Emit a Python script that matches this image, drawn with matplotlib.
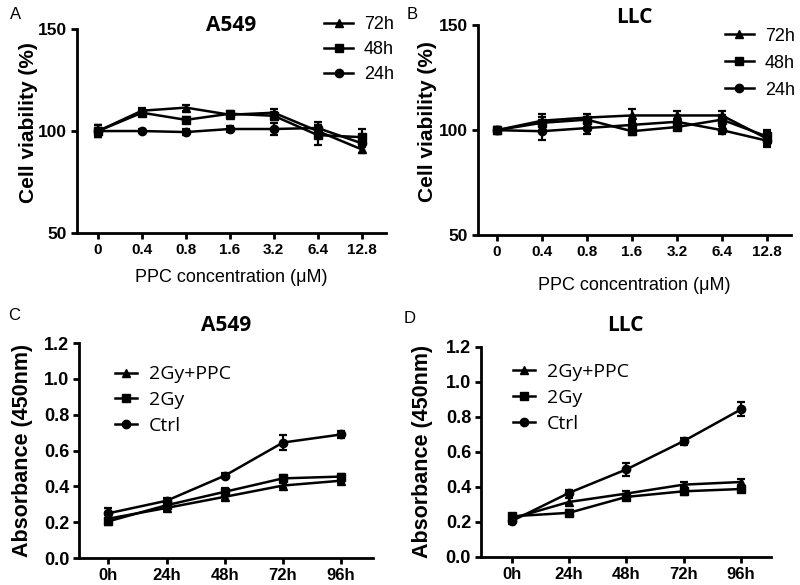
import matplotlib
matplotlib.use("Agg")
import matplotlib.pyplot as plt
from matplotlib.lines import Line2D

# PPC dose response (cell viability %)
conc_labels = ["0", "0.4", "0.8", "1.6", "3.2", "6.4", "12.8"]
a549_72h = [100, 110, 111.5, 108, 109, 100, 91]
a549_48h = [100, 109, 105.5, 108.5, 107.5, 98, 97]
a549_24h = [100, 100, 99.5, 101, 101, 101.5, 94]
a549_72h_err = [3, 1.5, 1.5, 1.5, 2, 3, 2]
a549_48h_err = [3, 1.5, 1.5, 1.5, 2, 5, 4]
a549_24h_err = [3, 1, 1.5, 1.5, 3, 3, 2]

llc_72h = [100, 104.5, 106, 107, 107, 107, 96]
llc_48h = [100, 103.5, 105, 99.5, 101.5, 105, 97]
llc_24h = [100, 99.5, 101, 102.5, 104, 100, 95]
llc_72h_err = [1.5, 2, 1.5, 3, 2, 2, 3]
llc_48h_err = [1.5, 4, 1.5, 2, 1.5, 2, 3]
llc_24h_err = [1.5, 4, 3, 2, 1.5, 2, 3]

# CCK-8 growth curves (absorbance 450nm)
time_labels = ["0h", "24h", "48h", "72h", "96h"]
abs_ticks = ["0.0", "0.2", "0.4", "0.6", "0.8", "1.0", "1.2"]
a549_ctrl = [0.25, 0.32, 0.46, 0.645, 0.69]
a549_2gy = [0.205, 0.295, 0.37, 0.445, 0.455]
a549_ppc = [0.22, 0.28, 0.342, 0.405, 0.432]
a549_ctrl_err = [0.03, 0.015, 0.015, 0.04, 0.02]
a549_2gy_err = [0.02, 0.015, 0.02, 0.02, 0.015]
a549_ppc_err = [0.02, 0.015, 0.015, 0.015, 0.015]

llc_ctrl = [0.205, 0.366, 0.50, 0.662, 0.843]
llc_2gy = [0.232, 0.252, 0.343, 0.375, 0.388]
llc_ppc = [0.22, 0.314, 0.362, 0.413, 0.428]
llc_ctrl_err = [0.015, 0.015, 0.035, 0.02, 0.04]
llc_2gy_err = [0.015, 0.015, 0.015, 0.02, 0.015]
llc_ppc_err = [0.015, 0.02, 0.015, 0.015, 0.015]

BOLD = "Liberation Sans"
fig = plt.figure(figsize=(8, 5.85), dpi=100)


def style_axes(ax, labels, xlim, ylim, yticks, ylabels, ylabel, xt_size, yt_size, ylab_size, ylab_xy):
    for s in ["top", "right"]:
        ax.spines[s].set_visible(False)
    for s in ["left", "bottom"]:
        ax.spines[s].set_linewidth(2)
    ax.set_xticks(range(len(labels)))
    ax.set_xticklabels(labels, fontfamily=BOLD, fontweight="bold", fontsize=xt_size)
    ax.set_yticks(yticks)
    ax.set_yticklabels(ylabels, fontfamily=BOLD, fontweight="bold", fontsize=yt_size)
    ax.set_xlim(*xlim)
    ax.set_ylim(*ylim)
    ax.tick_params(direction="out", length=4, width=2, pad=3)
    ax.set_ylabel(ylabel, fontfamily=BOLD, fontweight="bold", fontsize=ylab_size)
    ax.yaxis.set_label_coords(*ylab_xy)


def draw_series(ax, x, series):
    for vals, errs, mk in series:
        ax.errorbar(x, vals, yerr=errs, color="black", marker=mk, markersize=6,
                    linewidth=1.8, elinewidth=1.6, capsize=3, capthick=1.6)


def add_legend(ax, names, markers, anchor, size, family, spacing, hlen):
    handles = [Line2D([], [], color="black", marker=m, markersize=6, linewidth=1.8) for m in markers]
    ax.legend(handles, names, loc="upper left", bbox_to_anchor=anchor, bbox_transform=fig.transFigure,
              frameon=False, borderpad=0, handlelength=hlen, handletextpad=0.6,
              labelspacing=spacing, prop={"family": family, "size": size})


# A
axA = fig.add_axes([0.09625, 0.602, 0.386, 0.348])
draw_series(axA, range(7), [(a549_72h, a549_72h_err, "^"), (a549_48h, a549_48h_err, "s"),
                            (a549_24h, a549_24h_err, "o")])
style_axes(axA, conc_labels, (-0.48, 6.55), (50, 150), [50, 100, 150], ["50", "100", "150"],
           "Cell viability (%)", 11, 12.5, 15, (-0.126, 0.54))
axA.set_xlabel("PPC concentration (μM)", fontfamily=BOLD, fontsize=13, labelpad=9)
axA.text(0.5, 1.02, "A549", transform=axA.transAxes, ha="center", va="center",
         fontfamily="Open Sans", fontweight="bold", fontsize=15)
add_legend(axA, ["72h", "48h", "24h"], ["^", "s", "o"], (0.394, 0.988), 13, BOLD, 0.45, 1.6)

# B
axB = fig.add_axes([0.5975, 0.598, 0.391, 0.359])
draw_series(axB, range(7), [(llc_72h, llc_72h_err, "^"), (llc_48h, llc_48h_err, "s"),
                            (llc_24h, llc_24h_err, "o")])
style_axes(axB, conc_labels, (-0.42, 6.53), (50, 150), [50, 100, 150], ["50", "100", "150"],
           "Cell viability (%)", 11, 12.5, 15, (-0.131, 0.54))
axB.set_xlabel("PPC concentration (μM)", fontfamily=BOLD, fontsize=13, labelpad=13)
axB.text(0.5, 1.035, "LLC", transform=axB.transAxes, ha="center", va="center",
         fontfamily="Open Sans", fontweight="bold", fontsize=15)
add_legend(axB, ["72h", "48h", "24h"], ["^", "s", "o"], (0.895, 0.968), 13, BOLD, 0.55, 1.6)

# C
axC = fig.add_axes([0.099, 0.046, 0.3675, 0.3675])
draw_series(axC, range(5), [(a549_ppc, a549_ppc_err, "^"), (a549_2gy, a549_2gy_err, "s"),
                            (a549_ctrl, a549_ctrl_err, "o")])
style_axes(axC, time_labels, (-0.5, 4.55), (0, 1.2), [0, 0.2, 0.4, 0.6, 0.8, 1.0, 1.2], abs_ticks,
           "Absorbance (450nm)", 12, 13, 15.5, (-0.156, 0.5))
axC.text(0.5, 1.08, "A549", transform=axC.transAxes, ha="center", va="center",
         fontfamily="Open Sans", fontweight="bold", fontsize=15)
add_legend(axC, ["2Gy+PPC", "2Gy", "Ctrl"], ["^", "s", "o"], (0.131, 0.392), 14, "Open Sans", 0.4, 1.15)

# D
axD = fig.add_axes([0.601, 0.048, 0.3625, 0.359])
draw_series(axD, range(5), [(llc_ppc, llc_ppc_err, "^"), (llc_2gy, llc_2gy_err, "s"),
                            (llc_ctrl, llc_ctrl_err, "o")])
style_axes(axD, time_labels, (-0.54, 4.52), (0, 1.2), [0, 0.2, 0.4, 0.6, 0.8, 1.0, 1.2], abs_ticks,
           "Absorbance (450nm)", 12, 13, 15.5, (-0.165, 0.5))
axD.text(0.5, 1.1, "LLC", transform=axD.transAxes, ha="center", va="center",
         fontfamily="Open Sans", fontweight="bold", fontsize=15)
add_legend(axD, ["2Gy+PPC", "2Gy", "Ctrl"], ["^", "s", "o"], (0.629, 0.396), 14, "Open Sans", 0.4, 1.15)

# panel letters
for letter, x, y in [("A", 0.012, 0.988), ("B", 0.508, 0.988), ("C", 0.01, 0.473), ("D", 0.505, 0.468)]:
    fig.text(x, y, letter, fontfamily=BOLD, fontsize=12, va="top")

fig.savefig("out.png", dpi=100)
